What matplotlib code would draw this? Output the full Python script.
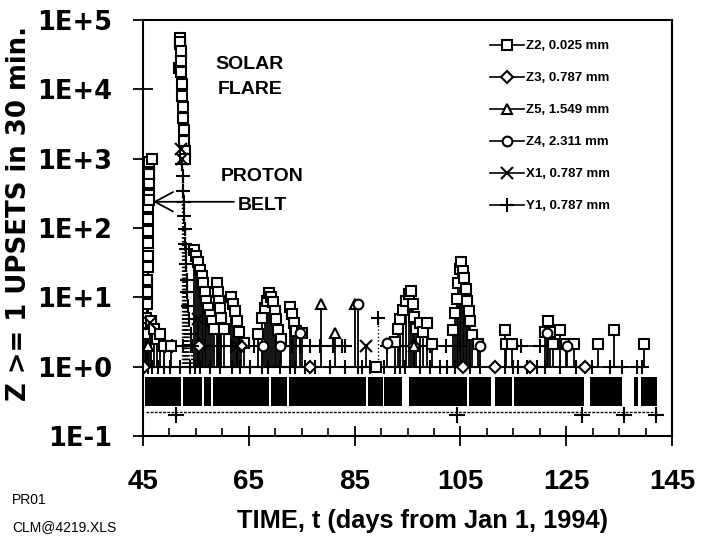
import matplotlib
matplotlib.use('Agg')
import matplotlib.pyplot as plt
from matplotlib.lines import Line2D
from matplotlib.ticker import FixedLocator, MultipleLocator, NullLocator

# upset counts (day of 1994, upsets in 30 min)
z2_days = [45.3, 45.5, 45.7, 45.8, 45.85, 45.9, 45.9, 45.95, 45.95, 46.0, 46.0, 46.05, 46.05, 46.1, 46.1,
           46.15, 46.2, 46.7, 46.5, 47.0, 47.6, 48.3, 49.0, 50.2,
           51.8, 51.9, 52.0, 52.05, 52.1, 52.15, 52.2, 52.3, 52.4, 52.5, 52.6, 52.7, 52.8, 52.9, 53.0,
           54.6, 55.0, 55.4, 55.8, 56.1, 56.4, 56.7, 57.0, 57.3, 57.6, 58.0, 58.5, 59.0, 59.2, 59.4, 59.6,
           59.8, 60.3, 61.6, 62.0, 62.4, 62.8, 63.2, 64.0,
           66.8, 67.5, 68.0, 68.4, 68.8, 69.2, 69.6, 69.9, 70.2, 70.6, 71.0, 72.8, 73.2, 73.6, 74.0, 75.1,
           89.0,
           92.6, 93.2, 93.6, 94.2, 94.8, 95.3, 95.6, 96.0, 96.2, 96.6, 97.4, 98.0, 98.7, 99.6,
           103.6, 104.0, 104.3, 104.6, 104.9, 105.1, 105.4, 105.7, 106.0, 106.3, 106.6, 106.9, 107.2, 108.3,
           113.4, 113.6, 114.8, 121.0, 121.6, 122.0, 122.5, 123.8, 124.9, 126.5, 131.0, 134.0, 139.7]
z2_vals = [3, 5, 8, 12, 18, 27, 40, 60, 90, 135, 200, 300, 450, 650, 900,
           600, 250, 1000, 4.5, 3.5, 2.5, 3, 2, 2,
           20000, 45000, 55000, 48000, 36000, 26000, 18000, 12000, 8000, 5500, 3800, 2600, 1800, 1300, 1000,
           48, 40, 32, 25, 20, 16, 12, 9, 7, 5.5, 4.5, 3.5, 16, 12, 9, 7,
           5, 3.5, 10, 8, 6.3, 4.5, 3.2, 2.2,
           3, 5, 7, 9, 11.5, 10, 8.5, 6.3, 4.8, 3.4, 2.5, 7.2, 5.7, 4.3, 3.3, 3.1,
           1,
           2.3, 3.5, 4.8, 6.5, 9, 11, 12.5, 8, 5.2, 3.5, 4.3, 3.2, 4.3, 2.1,
           3.4, 6, 9.4, 16, 26, 32, 24, 19, 13, 9, 6.3, 4.5, 2.9, 2.1,
           3.4, 2.1, 2.1, 3.2, 4.5, 3.2, 2.1, 3.4, 2.1, 2.1, 2.1, 3.4, 2.1]

z3_days = [45.2, 55.6, 63.5, 76.5, 96.2, 105.5, 111.5, 118.2, 128.6]
z3_vals = [1, 2, 2, 1, 2, 1, 1, 1, 1]

z5_days = [46.0, 78.6, 81.3, 85.0, 96.3]
z5_vals = [2, 8, 3.1, 8, 2]

z4_days = [67.7, 70.9, 74.7, 85.7, 91.1, 108.7, 121.4, 125.1]
z4_vals = [2, 2, 3.1, 8, 2.2, 2, 3.1, 2]

x1_days = [46.3, 52.2, 52.3, 55.4, 62.8, 87.2]
x1_vals = [4.3, 1400, 1000, 4.8, 2, 2]

y1_flare_days = [52.4, 52.5, 52.6, 52.7, 52.8, 52.9, 53.0, 53.1, 53.2, 53.3, 53.4, 53.5, 53.7, 54.0, 54.3, 89.4]
y1_flare_vals = [830, 560, 340, 240, 150, 97, 58, 49, 30, 18, 12, 7.4, 4.8, 3, 2, 5]

# Y1 samples sitting on the 1-upset and 2-upset rows
y1_one_days = [45.9, 46.7, 47.8, 49.0, 50.1, 52.0, 53.9, 54.8, 55.8, 57.7, 59.6, 61.8, 63.3, 65.2, 67.5,
               68.6, 70.9, 72.8, 73.7, 75.6, 77.5, 80.3, 83.2, 85.6, 86.4, 87.9, 90.6, 92.6, 93.6, 94.5,
               97.4, 99.3, 101.1, 102.5, 104.0, 106.8, 108.7, 113.4, 114.9, 115.9, 117.6, 119.5, 121.0,
               123.8, 126.9, 129.9, 133.3, 135.5, 138.4, 139.3]
y1_two_groups = [[49.2, 50.5, 52.5, 54.0, 55.5, 56.7],
                 [59.6, 61.6, 64.0, 66.0],
                 [73.2, 74.7, 76.6, 78.5, 81.0, 82.6, 83.2],
                 [91.1, 93.6, 96.6, 99.3, 102.3, 104.9],
                 [116.5, 120.0]]
y1_floor_days = [51.3, 104.3, 128.0, 136.0, 142.0]

# stretches of continuous telemetry (black band of zero counts)
band_segments = [(45.3, 52.2), (52.5, 56.1), (56.5, 57.8), (58.2, 68.8), (69.2, 72.2), (72.6, 87.1),
                 (87.6, 90.4), (90.6, 93.9), (95.3, 106.2), (106.6, 110.8), (111.6, 114.7),
                 (115.1, 128.4), (129.5, 135.5), (137.8, 138.6), (139.2, 142.2)]

bold = 'Liberation Sans'
wide = 'DejaVu Sans'

fig = plt.figure(figsize=(7.04, 5.37), dpi=100)
ax = fig.add_axes([143 / 704, 1 - 436 / 537, 529 / 704, 416 / 537])
ax.set_yscale('log')

# zero-count band and floor line
for s, e in band_segments:
    ax.fill_between([s, e], 0.27, 0.72, color='black', lw=0)
ax.plot([45.5, 142.2], [0.22, 0.22], color='black', lw=1, ls=(0, (2, 1)))
ax.plot(y1_floor_days, [0.2] * len(y1_floor_days), ls='none', marker='+', ms=11, mew=1.5, color='black')

# stems down to the 1-upset row (not for the big belt / flare counts)
for d, v in [(z2_days, z2_vals), (z3_days, z3_vals), (z5_days, z5_vals), (z4_days, z4_vals), (x1_days, x1_vals)]:
    low = [(a, b) for a, b in zip(d, v) if b <= 50]
    ax.vlines([a for a, b in low], 1, [b for a, b in low], color='black', lw=1.3)
ax.vlines(y1_flare_days, 1, y1_flare_vals, color='black', lw=1, linestyles=':')

# Y1 rows
ax.plot(y1_one_days, [1] * len(y1_one_days), color='black', lw=1.2, marker='+', ms=10, mew=1.5)
for g in y1_two_groups:
    ax.plot(g, [2] * len(g), color='black', lw=1.2, marker='+', ms=10, mew=1.5)

mk = dict(ls='none', color='black', mfc='white', mew=1.5)
ax.plot(z2_days, z2_vals, marker='s', ms=7, **mk)
ax.plot(z3_days, z3_vals, marker='D', ms=6, **mk)
ax.plot(z5_days, z5_vals, marker='^', ms=7, **mk)
ax.plot(z4_days, z4_vals, marker='o', ms=7, **mk)
ax.plot(x1_days, x1_vals, ls='none', marker='x', ms=8, mew=1.5, color='black')
ax.plot(y1_flare_days, y1_flare_vals, ls='none', marker='+', ms=10, mew=1.5, color='black')

ax.set_xlim(45, 145)
ax.set_ylim(0.1, 1e5)
ax.xaxis.set_major_locator(FixedLocator([45, 65, 85, 105, 125, 145]))
ax.xaxis.set_minor_locator(MultipleLocator(5))
ax.yaxis.set_major_locator(FixedLocator([0.1, 1, 10, 100, 1e3, 1e4, 1e5]))
ax.yaxis.set_minor_locator(NullLocator())
ax.set_xticklabels(['45', '65', '85', '105', '125', '145'], fontfamily=bold, fontweight='bold', fontsize=20)
ax.set_yticklabels(['1E-1', '1E+0', '1E+1', '1E+2', '1E+3', '1E+4', '1E+5'],
                   fontfamily=wide, fontweight='bold', fontsize=18.5)
ax.tick_params(axis='x', which='major', direction='inout', length=14, width=1.3, pad=17)
ax.tick_params(axis='x', which='minor', direction='in', length=6, width=1.2)
ax.tick_params(axis='y', which='major', direction='inout', length=14, width=1.3, pad=15)
for sp in ax.spines.values():
    sp.set_linewidth(1.5)

ax.set_xlabel('TIME, t (days from Jan 1, 1994)', fontfamily=bold, fontweight='bold', fontsize=18.3)
ax.set_ylabel('Z >= 1 UPSETS in 30 min.', fontfamily=wide, fontweight='bold', fontsize=18.7)
ax.xaxis.set_label_coords(0.529, -0.175)
ax.yaxis.set_label_coords(-0.21, 0.534)

# event labels
tk = dict(transform=ax.transAxes, ha='center', va='center', fontfamily=bold, fontweight='bold', fontsize=14)
ax.text(0.202, 0.892, 'SOLAR', **tk)
ax.text(0.202, 0.832, 'FLARE', **tk)
ax.text(0.225, 0.623, 'PROTON', **tk)
ax.text(0.225, 0.555, 'BELT', **tk)
ax.annotate('', xy=(0.019, 0.563), xycoords='axes fraction', xytext=(0.172, 0.563),
            arrowprops=dict(arrowstyle='->,head_length=1.3,head_width=0.7', color='black', lw=1.3,
                            shrinkA=0, shrinkB=0))

handles = [
    Line2D([], [], color='black', lw=1.2, marker='s', ms=7, mfc='white', mew=1.5),
    Line2D([], [], color='black', lw=1.2, marker='D', ms=6, mfc='white', mew=1.5),
    Line2D([], [], color='black', lw=1.2, marker='^', ms=7, mfc='white', mew=1.5),
    Line2D([], [], color='black', lw=1.2, marker='o', ms=7, mfc='white', mew=1.5),
    Line2D([], [], color='black', lw=1.2, marker='x', ms=8, mew=1.5),
    Line2D([], [], color='black', lw=1.2, marker='+', ms=10, mew=1.5),
]
labels = ['Z2, 0.025 mm', 'Z3, 0.787 mm', 'Z5, 1.549 mm', 'Z4, 2.311 mm', 'X1, 0.787 mm', 'Y1, 0.787 mm']
ax.legend(handles, labels, loc='upper left', bbox_to_anchor=(0.656, 0.952), frameon=False,
          borderpad=0, borderaxespad=0, handlelength=2.6, handletextpad=0.15, labelspacing=1.5,
          prop=dict(family=bold, weight='bold', size=9.5))

fig.text(0.017, 0.069, 'PR01', fontfamily=bold, fontsize=10, va='center')
fig.text(0.017, 0.019, 'CLM@4219.XLS', fontfamily=bold, fontsize=10, va='center')

fig.savefig('out.png', dpi=100)
